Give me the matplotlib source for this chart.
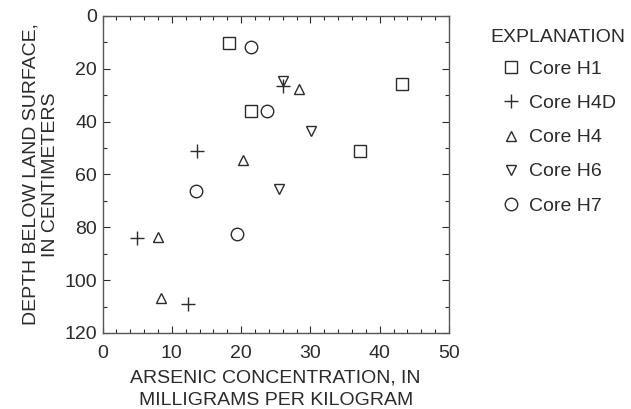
import matplotlib.pyplot as plt
from matplotlib.ticker import MultipleLocator

plt.rcParams['font.family'] = ['Liberation Sans', 'DejaVu Sans']

# arsenic (mg/kg) and depth (cm) per core
h1_as = [18.3, 43.2, 21.5, 37.1]
h1_depth = [10.3, 25.7, 35.9, 51.0]
h4d_as = [26.0, 13.6, 4.95, 12.4]
h4d_depth = [26.4, 51.0, 84.0, 109.2]
h4_as = [28.4, 20.3, 8.0, 8.5]
h4_depth = [27.7, 54.4, 83.6, 106.7]
h6_as = [26.1, 30.1, 25.5]
h6_depth = [24.6, 43.7, 65.4]
h7_as = [21.4, 23.8, 13.5, 19.4]
h7_depth = [11.6, 35.9, 66.1, 82.7]

ink = '#2b2b2b'

fig = plt.figure(figsize=(6.31, 4.09), dpi=100)
ax = fig.add_axes([0.1625, 0.186, 0.549, 0.775])

kw = dict(linestyle='none', color=ink, markerfacecolor='none', markeredgewidth=1.0)
ax.plot(h1_as, h1_depth, marker='s', markersize=9, label='Core H1', **kw)
ax.plot(h4d_as, h4d_depth, marker='+', markersize=10, label='Core H4D', **kw)
ax.plot(h4_as, h4_depth, marker='^', markersize=7, label='Core H4', **kw)
ax.plot(h6_as, h6_depth, marker='v', markersize=7, label='Core H6', **kw)
ax.plot(h7_as, h7_depth, marker='o', markersize=9, label='Core H7', **kw)

ax.set_xlim(0, 50)
ax.set_ylim(120, 0)
ax.xaxis.set_major_locator(MultipleLocator(10))
ax.xaxis.set_minor_locator(MultipleLocator(2))
ax.yaxis.set_major_locator(MultipleLocator(20))
ax.yaxis.set_minor_locator(MultipleLocator(10))
ax.tick_params(which='both', direction='in', top=True, right=True, colors=ink,
               labelsize=14, width=0.8)
ax.tick_params(which='major', length=5)
ax.tick_params(which='minor', length=3)
ax.tick_params(axis='x', pad=9)
ax.tick_params(axis='y', pad=4)
for s in ax.spines.values():
    s.set_color('#555555')
    s.set_linewidth(1.0)

ax.set_xlabel('ARSENIC CONCENTRATION, IN\nMILLIGRAMS PER KILOGRAM',
              fontsize=14, color=ink, linespacing=1.4, labelpad=5)
ax.set_ylabel('DEPTH BELOW LAND SURFACE,\nIN CENTIMETERS',
              fontsize=14, color=ink, linespacing=1.15, labelpad=4)

leg = ax.legend(loc='upper left', bbox_to_anchor=(1.1345, 0.878), frameon=False,
                fontsize=14, handlelength=1.0, handletextpad=0.4,
                labelspacing=0.85, borderpad=0.3, borderaxespad=0)
for t in leg.get_texts():
    t.set_color(ink)
fig.text(490 / 631, 1 - 37 / 409, 'EXPLANATION', fontsize=14, color=ink,
         ha='left', va='center')

fig.savefig('out.png', dpi=100)
